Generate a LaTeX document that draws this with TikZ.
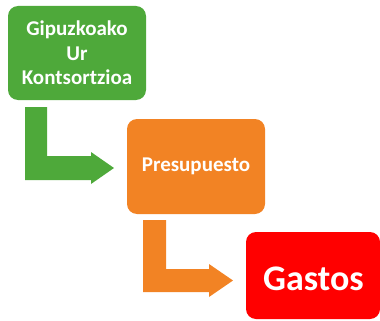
\documentclass[tikz,border=0pt]{standalone}
\usepackage{fontspec}
\setmainfont{Carlito}
\definecolor{gbox}{RGB}{78,169,58}
\definecolor{obox}{RGB}{242,131,36}
\definecolor{rbox}{RGB}{255,0,0}
\begin{document}
\begin{tikzpicture}[x=1pt,y=-1pt,
  box/.style={rounded corners=10pt,inner sep=0pt,align=center,text=white,font=\bfseries},
  lbl/.style={inner sep=0pt,align=center,text=white}]
\useasboundingbox (0,0) rectangle (380,321);
% boxes
\node[box,fill=gbox,minimum width=138pt,minimum height=94pt,font=\bfseries\fontsize{21}{24.5}\selectfont] (g) at (77,53) {Gipuzkoako\\Ur\\Kontsortzioa};
\node[box,fill=obox,minimum width=138pt,minimum height=95pt,font=\bfseries\fontsize{21}{25}\selectfont] (o) at (196,166.5) {Presupuesto};
\node[box,fill=rbox,minimum width=134pt,minimum height=87pt] (r) at (313,275.5) {};
\node[lbl,font=\bfseries\fontsize{36}{42}\selectfont] (rt) at (313.5,279) {Gastos};
% bent arrows
\fill[gbox] (25,107) -- (47,107) -- (47,156) -- (91,156) -- (91,152) -- (114,168) -- (91,184) -- (91,180) -- (25,180) -- cycle;
\fill[obox] (143,220) -- (166,220) -- (166,269) -- (209,269) -- (209,264) -- (233,280.5) -- (209,297) -- (209,292) -- (143,292) -- cycle;
\end{tikzpicture}
\end{document}
